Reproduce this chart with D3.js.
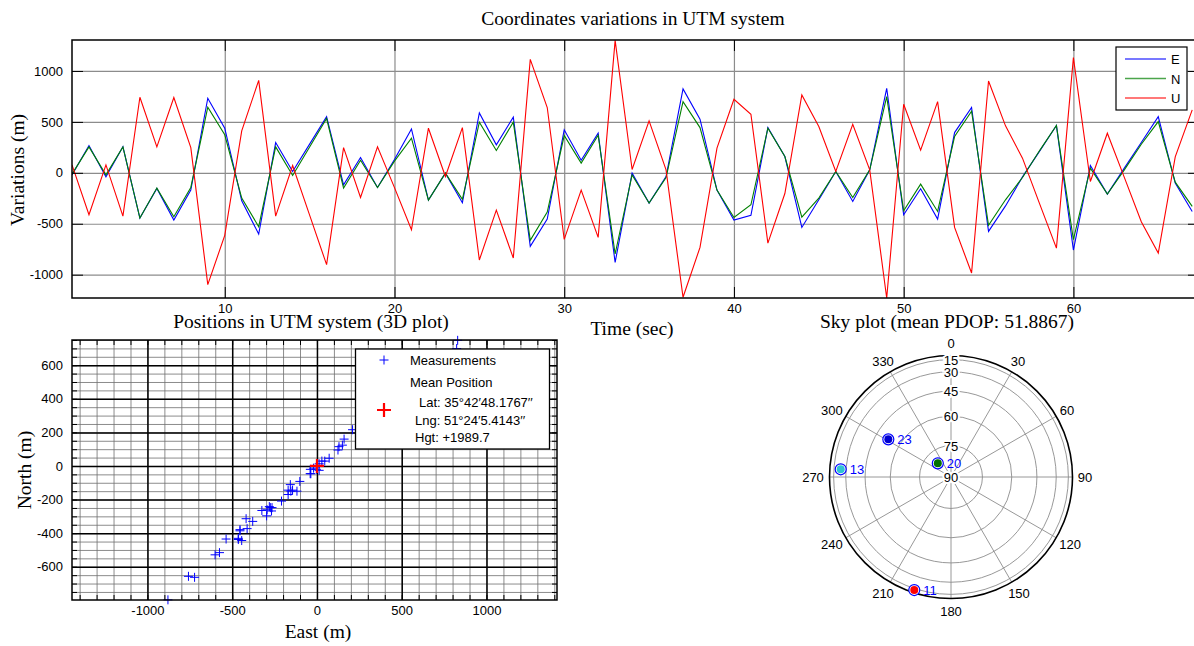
<!DOCTYPE html>
<html>
<head>
<meta charset="utf-8">
<script src="https://cdn.jsdelivr.net/npm/d3@7"></script>
<style>
  body { margin: 0; background: #fff; }
  svg text { font-family: "Liberation Sans", Arial, sans-serif; font-size: 13px; fill: #000; }
  svg text.serif { font-family: "Liberation Serif", "Times New Roman", serif; font-size: 19.5px; }
</style>
</head>
<body>
<svg id="chart" width="1194" height="646"></svg>
<script>
/* DATA */
const seconds = [1, 2, 3, 4, 5, 6, 7, 8, 9, 10, 11, 12, 13, 14, 15, 16, 17, 18, 19, 20,
  21, 22, 23, 24, 25, 26, 27, 28, 29, 30, 31, 32, 33, 34, 35, 36, 37, 38, 39, 40,
  41, 42, 43, 44, 45, 46, 47, 48, 49, 50, 51, 52, 53, 54, 55, 56, 57, 58, 59, 60,
  61, 62, 63, 64, 65, 66, 67];

const east = [-20, 268, -39, 255, -444, -154, -464, -170, 732, 438,
  -275, -601, 297, 13, 282, 552, -118, 150, -144, 130,
  431, -268, -3, -294, 588, 275, 546, -722, -454, 422,
  124, 389, -879, -3, -297, -36, 824, 526, -170, -464,
  -418, 444, 160, -536, -265, 13, -281, 29, 830, -412,
  -157, -454, 395, 641, -575, -325, -40, 210, 464, -758,
  72, -209, 46, 297, 552, -101, -379];

const north = [-13, 255, -20, 255, -444, -150, -431, -144, 644, 373,
  -248, -529, 255, -26, 254, 533, -150, 124, -144, 115,
  340, -268, -3, -261, 497, 219, 497, -663, -386, 366,
  95, 369, -797, -20, -297, -46, 699, 444, -170, -438,
  -314, 438, 160, -435, -248, 13, -242, 29, 748, -373,
  -111, -379, 356, 605, -516, -265, -46, 216, 464, -657,
  46, -209, 29, 281, 503, -92, -330];

const up = [78, -412, 78, -425, 742, 255, 739, 248, -1098, -614,
  412, 908, -425, 72, -415, -902, 248, -242, 255, -145,
  -559, 438, -36, 444, -856, -366, -837, 1114, 641, -654,
  -170, -634, 1300, 33, 510, 29, -1222, -732, 242, 722,
  575, -690, -203, 765, 454, 13, 477, 29, -1229, 673,
  222, 699, -536, -984, 902, 461, 144, -300, -739, 1131,
  -85, 389, -45, -480, -788, 157, 618];

const seriesNames = ["E", "N", "U"];
const timeTicks = [10, 20, 30, 40, 50, 60];
const variationTicks = [-1000, -500, 0, 500, 1000];

const eastTicks = [-1000, -500, 0, 500, 1000];
const northTicks = [-600, -400, -200, 0, 200, 400, 600];
const meanEast = [0];
const meanNorth = [0];
const meanLabels = ["Lat: 35\u00b042\u203248.1767\u2032\u2032", "Lng: 51\u00b024\u20325.4143\u2032\u2032", "Hgt: +1989.7"];

const prns = [11, 13, 20, 23];
const azimuths = [198, 274, 316, 301];
const elevations = [12, 24.5, 81, 53];
const elevationRings = [15, 30, 45, 60, 75];
const elevationLabels = [15, 30, 45, 60, 75, 90];
const azimuthSpokes = [0, 30, 60, 90, 120, 150, 180, 210, 240, 270, 300, 330];
const meanPdop = 51.8867;

/* CONSTANTS */
const svg = d3.select("#chart");
const colors = { E: "#0000ff", N: "#008000", U: "#ff0000" };
const gridColor = "#8c8c8c";
const plain = d => String(d); // matlab prints a plain hyphen for negatives

const tsBox = { left: 72, right: 1199, top: 40, bottom: 298 };
const enBox = { left: 72, right: 557, top: 340, bottom: 600 };
const sky = { cx: 951, cy: 477, R: 121.5 };

// inward tick marks on all four sides, matlab style
function boxTicks(g, x, y, box, xt, yt, len) {
  g.append("g").attr("transform", `translate(0,${box.bottom})`)
    .call(d3.axisBottom(x).tickValues(xt).tickSize(-len).tickFormat(""));
  g.append("g").attr("transform", `translate(0,${box.top})`)
    .call(d3.axisTop(x).tickValues(xt).tickSize(-len).tickFormat(""));
  g.append("g").attr("transform", `translate(${box.left},0)`)
    .call(d3.axisLeft(y).tickValues(yt).tickSize(-len).tickFormat(""));
  g.append("g").attr("transform", `translate(${box.right},0)`)
    .call(d3.axisRight(y).tickValues(yt).tickSize(-len).tickFormat(""));
  g.selectAll(".domain").remove();
  g.selectAll(".tick line").attr("stroke", "#000").attr("stroke-width", 1);
}

function gridLines(g, x, y, box, xt, yt, color, width) {
  g.append("g").attr("transform", `translate(0,${box.bottom})`)
    .call(d3.axisBottom(x).tickValues(xt).tickSize(-(box.bottom - box.top)).tickFormat(""));
  g.append("g").attr("transform", `translate(${box.left},0)`)
    .call(d3.axisLeft(y).tickValues(yt).tickSize(-(box.right - box.left)).tickFormat(""));
  g.selectAll(".domain").remove();
  g.selectAll(".tick line").attr("stroke", color).attr("stroke-width", width);
}

function tickLabels(g, x, y, box, xt, yt) {
  g.append("g").attr("transform", `translate(0,${box.bottom})`)
    .call(d3.axisBottom(x).tickValues(xt).tickSize(0).tickPadding(6).tickFormat(plain));
  g.append("g").attr("transform", `translate(${box.left},0)`)
    .call(d3.axisLeft(y).tickValues(yt).tickSize(0).tickPadding(9).tickFormat(plain));
  g.selectAll(".domain").remove();
  g.selectAll("text").attr("font-size", null).attr("font-family", null).attr("fill", "#000");
}

/* TIME SERIES */
function drawTimeSeries() {
  const x = d3.scaleLinear().domain([1, 67.4]).range([tsBox.left, tsBox.right]);
  const y = d3.scaleLinear().domain([-1229, 1304]).range([tsBox.bottom, tsBox.top]);
  const g = svg.append("g");

  g.append("clipPath").attr("id", "tsClip").append("rect")
    .attr("x", tsBox.left).attr("y", tsBox.top - 1)
    .attr("width", tsBox.right - tsBox.left).attr("height", tsBox.bottom - tsBox.top + 2);

  gridLines(g.append("g"), x, y, tsBox, timeTicks, variationTicks, gridColor, 1.2);

  const series = [east, north, up];
  const line = d3.line().x((d, i) => x(seconds[i])).y(d => y(d));
  g.append("g").attr("clip-path", "url(#tsClip)")
    .selectAll("path.trend")
    .data(series)
    .join("path")
    .attr("class", "trend")
    .attr("fill", "none")
    .attr("stroke", (d, i) => colors[seriesNames[i]])
    .attr("stroke-width", 1.1)
    .attr("d", line);

  boxTicks(g.append("g"), x, y, tsBox, timeTicks, variationTicks, 11);
  g.append("rect")
    .attr("x", tsBox.left).attr("y", tsBox.top)
    .attr("width", tsBox.right - tsBox.left).attr("height", tsBox.bottom - tsBox.top)
    .attr("fill", "none").attr("stroke", "#000").attr("stroke-width", 1.5);

  tickLabels(g.append("g"), x, y, tsBox, timeTicks, variationTicks);

  // legend
  const lg = g.append("g");
  lg.append("rect").attr("x", 1116).attr("y", 47).attr("width", 71).attr("height", 63)
    .attr("fill", "#fff").attr("stroke", "#000").attr("stroke-width", 1.2);
  seriesNames.forEach((s, i) => {
    lg.append("line").attr("x1", 1125).attr("x2", 1166)
      .attr("y1", 59 + i * 19.5).attr("y2", 59 + i * 19.5)
      .attr("stroke", colors[s]).attr("stroke-width", 1.3).attr("opacity", 0.7);
    lg.append("text").attr("x", 1171).attr("y", 64 + i * 19.5).text(s);
  });

  svg.append("text").attr("class", "serif").attr("x", 633).attr("y", 25)
    .attr("text-anchor", "middle").text("Coordinates variations in UTM system");
  svg.append("text").attr("class", "serif").attr("x", 632).attr("y", 335)
    .attr("text-anchor", "middle").text("Time (sec)");
  svg.append("text").attr("class", "serif")
    .attr("transform", "translate(24,170) rotate(-90)")
    .attr("text-anchor", "middle").text("Variations (m)");
}

/* EAST / NORTH SCATTER */
function drawScatter() {
  const x = d3.scaleLinear().domain([-1445, 1416]).range([enBox.left, enBox.right]);
  const y = d3.scaleLinear().domain([-798, 750]).range([enBox.bottom, enBox.top]);
  const g = svg.append("g");

  const minorX = d3.range(-1400, 1401, 100);
  const minorY = d3.range(-750, 751, 50);
  gridLines(g.append("g"), x, y, enBox, minorX, minorY, "#6e6e6e", 0.8);
  gridLines(g.append("g"), x, y, enBox, eastTicks, northTicks, "#000", 1.5);

  const plus = (sz) => `M${-sz},0H${sz}M0,${-sz}V${sz}`;
  g.append("g").selectAll("path.meas")
    .data(east)
    .join("path")
    .attr("class", "meas")
    .attr("transform", (d, i) => `translate(${x(d)},${y(north[i])})`)
    .attr("d", plus(4.5))
    .attr("fill", "none").attr("stroke", "#0000ff").attr("stroke-width", 1);

  g.append("g").selectAll("path.mean")
    .data(meanEast)
    .join("path")
    .attr("class", "mean")
    .attr("transform", (d, i) => `translate(${x(d)},${y(meanNorth[i])})`)
    .attr("d", plus(7))
    .attr("fill", "none").attr("stroke", "#ff0000").attr("stroke-width", 2.2);

  boxTicks(g.append("g"), x, y, enBox, minorX, minorY, 5);
  g.append("rect")
    .attr("x", enBox.left).attr("y", enBox.top)
    .attr("width", enBox.right - enBox.left).attr("height", enBox.bottom - enBox.top)
    .attr("fill", "none").attr("stroke", "#000").attr("stroke-width", 1.5);

  tickLabels(g.append("g"), x, y, enBox, eastTicks, northTicks);

  // legend
  const lg = g.append("g");
  lg.append("rect").attr("x", 355.5).attr("y", 349).attr("width", 194).attr("height", 100)
    .attr("fill", "#fff").attr("stroke", "#000").attr("stroke-width", 1.3);
  lg.append("path").attr("transform", "translate(384,360)").attr("d", plus(4.5))
    .attr("fill", "none").attr("stroke", "#0000ff").attr("stroke-width", 1);
  lg.append("text").attr("x", 410).attr("y", 365).text("Measurements");
  lg.append("text").attr("x", 410).attr("y", 387).text("Mean Position");
  lg.append("path").attr("transform", "translate(384,410)").attr("d", plus(7))
    .attr("fill", "none").attr("stroke", "#ff0000").attr("stroke-width", 2.2);
  lg.selectAll("text.coord")
    .data(meanLabels)
    .join("text")
    .attr("class", "coord")
    .attr("x", (d, i) => (i === 0 ? 419 : 415))
    .attr("y", (d, i) => 407 + i * 17.5)
    .text(d => d);

  svg.append("text").attr("class", "serif").attr("x", 311).attr("y", 328)
    .attr("text-anchor", "middle").text("Positions in UTM system (3D plot)");
  svg.append("text").attr("class", "serif").attr("x", 318).attr("y", 638)
    .attr("text-anchor", "middle").text("East (m)");
  svg.append("text").attr("class", "serif")
    .attr("transform", "translate(31,470) rotate(-90)")
    .attr("text-anchor", "middle").text("North (m)");
}

/* SKY PLOT */
function drawSky() {
  const g = svg.append("g").attr("transform", `translate(${sky.cx},${sky.cy})`);
  const rad = d => d * Math.PI / 180;
  const r = d3.scaleLinear().domain([0, 1]).range([0, sky.R]); // radius from cos(elevation)
  const pos = (az, el) => [r(Math.cos(rad(el))) * Math.sin(rad(az)), -r(Math.cos(rad(el))) * Math.cos(rad(az))];

  g.append("circle").attr("r", sky.R).attr("fill", "#fff").attr("stroke", "none");

  g.selectAll("line.spoke")
    .data(azimuthSpokes)
    .join("line")
    .attr("class", "spoke")
    .attr("x1", 0).attr("y1", 0)
    .attr("x2", d => pos(d, 0)[0]).attr("y2", d => pos(d, 0)[1])
    .attr("stroke", gridColor).attr("stroke-width", 0.9);

  g.selectAll("circle.ring")
    .data(elevationRings)
    .join("circle")
    .attr("class", "ring")
    .attr("r", d => r(Math.cos(rad(d))))
    .attr("fill", "none").attr("stroke", gridColor).attr("stroke-width", 0.9);

  g.append("circle").attr("r", sky.R).attr("fill", "none").attr("stroke", "#000").attr("stroke-width", 1.6);

  g.selectAll("text.el")
    .data(elevationLabels)
    .join("text")
    .attr("class", "el")
    .attr("x", 0)
    .attr("y", d => -r(Math.cos(rad(d))) + 5)
    .attr("text-anchor", "middle")
    .attr("stroke", "#fff").attr("stroke-width", 4).attr("paint-order", "stroke")
    .text(d => d);

  g.selectAll("text.az")
    .data(azimuthSpokes)
    .join("text")
    .attr("class", "az")
    .attr("x", d => Math.sin(rad(d)) * (134 + Math.abs(Math.sin(rad(d))) * (String(d).length - 2) * 4))
    .attr("y", d => -Math.cos(rad(d)) * 134 + 5)
    .attr("text-anchor", "middle")
    .text(d => d);

  const fill = d3.scaleOrdinal().domain(prns).range(["#ff0000", "#2ec4d6", "#007000", "#0000d0"]);
  const sats = g.selectAll("g.sat")
    .data(prns)
    .join("g")
    .attr("class", "sat")
    .attr("transform", (d, i) => `translate(${pos(azimuths[i], elevations[i])})`);
  sats.append("circle").attr("r", 5.5).attr("fill", "#fff").attr("stroke", "#0000ff").attr("stroke-width", 1.2);
  sats.append("circle").attr("r", 4).attr("fill", d => fill(d));
  sats.append("text").attr("x", 9).attr("y", 5).style("fill", "#0000ff").text(d => d);

  svg.append("text").attr("class", "serif").attr("x", 947).attr("y", 328)
    .attr("text-anchor", "middle").text(`Sky plot (mean PDOP: ${meanPdop})`);
}

drawTimeSeries();
drawScatter();
drawSky();
</script>
</body>
</html>
